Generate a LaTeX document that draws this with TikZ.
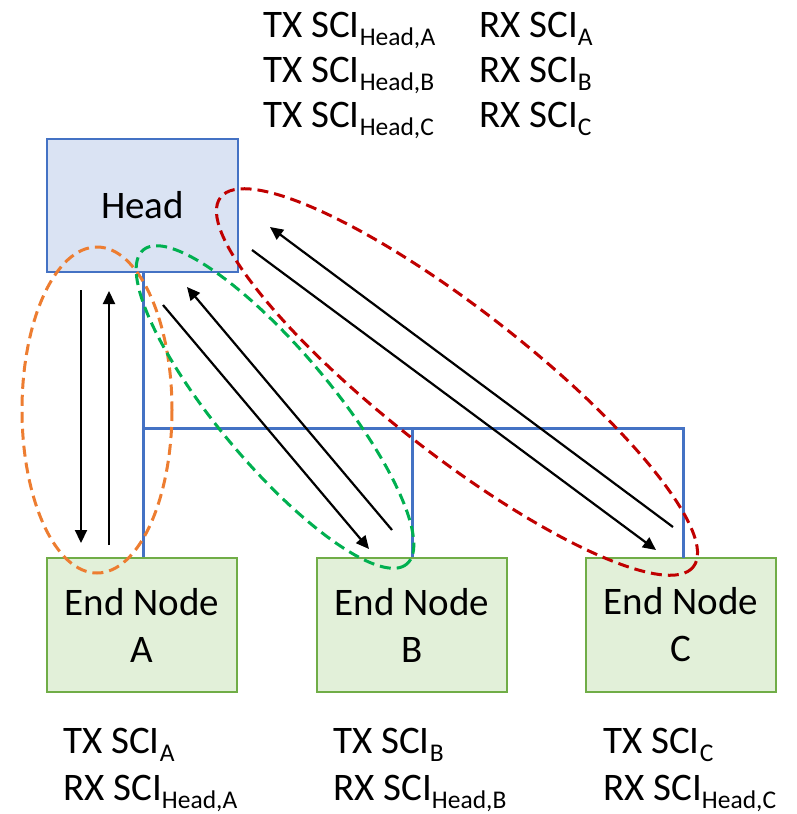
\documentclass[tikz,border=0pt]{standalone}
\usepackage{fontspec}
\setmainfont{Carlito}
\usepackage{tikz}
\usetikzlibrary{positioning,arrows.meta,calc}
\definecolor{headfill}{RGB}{218,227,243}
\definecolor{headline}{RGB}{68,114,196}
\definecolor{nodefill}{RGB}{226,240,217}
\definecolor{nodeline}{RGB}{112,173,71}
\definecolor{grpA}{RGB}{237,125,49}
\definecolor{grpB}{RGB}{0,176,80}
\definecolor{grpC}{RGB}{192,0,0}
\newcommand{\sci}[1]{SCI\raisebox{-8pt}{\fontsize{25.5}{25.5}\selectfont #1}}
\tikzset{
  box/.style={draw,line width=2.6pt,align=center,inner sep=0pt,font=\fontsize{39}{47}\selectfont},
  head/.style={box,fill=headfill,draw=headline,minimum width=191pt,minimum height=133pt},
  endnode/.style={box,fill=nodefill,draw=nodeline,minimum width=190pt,minimum height=134pt},
  lbl/.style={anchor=base west,inner sep=0pt,font=\fontsize{39}{47}\selectfont},
  bus/.style={draw=headline,line width=3pt},
  ar/.style={-{Triangle[length=13pt,width=12pt]},line width=2.2pt},
  grp/.style={dash pattern=on 11pt off 6pt,line width=3pt},
}

\begin{document}
\begin{tikzpicture}[x=1pt,y=-1pt]
  \useasboundingbox (0,0) rectangle (796,814);
  % boxes
  \node[head] (head) at (142.5,205.5) {Head};
  \node[endnode] (endA) at (142,625) {End Node\\A};
  \node[endnode] (endB) at (412,625) {End Node\\B};
  \node[endnode] (endC) at (681,625) {End Node\\C};
  % SCI labels
  \node[lbl] (txH1) at (263,37) {TX \sci{Head,A}};
  \node[lbl] (txH2) at (263,82) {TX \sci{Head,B}};
  \node[lbl] (txH3) at (263,127) {TX \sci{Head,C}};
  \node[lbl] (rxH1) at (479,37) {RX \sci{A}};
  \node[lbl] (rxH2) at (479,82) {RX \sci{B}};
  \node[lbl] (rxH3) at (479,127) {RX \sci{C}};
  \node[lbl] (txA) at (63,753) {TX \sci{A}};
  \node[lbl] (rxA) at (63,800) {RX \sci{Head,A}};
  \node[lbl] (txB) at (333,753) {TX \sci{B}};
  \node[lbl] (rxB) at (333,800) {RX \sci{Head,B}};
  \node[lbl] (txC) at (603,753) {TX \sci{C}};
  \node[lbl] (rxC) at (603,800) {RX \sci{Head,C}};
  % wiring
  \coordinate (bus) at (0,428);
  \draw[bus] (head.south -| 143,0) -- (endA.north -| 143,0);
  \draw[bus] (143,428) -| (endB.north);
  \draw[bus] (endB.north |- bus) -| (683,558);
  % links head <-> A
  \coordinate (hA1) at (81,290);
  \coordinate (nA1) at (81,543);
  \coordinate (nA2) at (109,545);
  \coordinate (hA2) at (109,291);
  \draw[ar] (hA1) -- (nA1);
  \draw[ar] (nA2) -- (hA2);
  % links head <-> B
  \coordinate (hB1) at (163,305);
  \coordinate (nB1) at (369,549);
  \coordinate (nB2) at (392,530);
  \coordinate (hB2) at (187,287);
  \draw[ar] (hB1) -- (nB1);
  \draw[ar] (nB2) -- (hB2);
  % links head <-> C
  \coordinate (hC1) at (252,250);
  \coordinate (nC1) at (656,550);
  \coordinate (nC2) at (673,527);
  \coordinate (hC2) at (270,227);
  \draw[ar] (hC1) -- (nC1);
  \draw[ar] (nC2) -- (hC2);
  % link groups
  \draw[grp,grpA] (97,410) ellipse [x radius=75,y radius=163];
  \draw[grp,grpB,rotate around={-50:(275,407)}] (275,407) ellipse [x radius=205,y radius=57];
  \draw[grp,grpC,rotate around={-38:(457,382)}] (457,382) ellipse [x radius=300,y radius=72];
\end{tikzpicture}
\end{document}
